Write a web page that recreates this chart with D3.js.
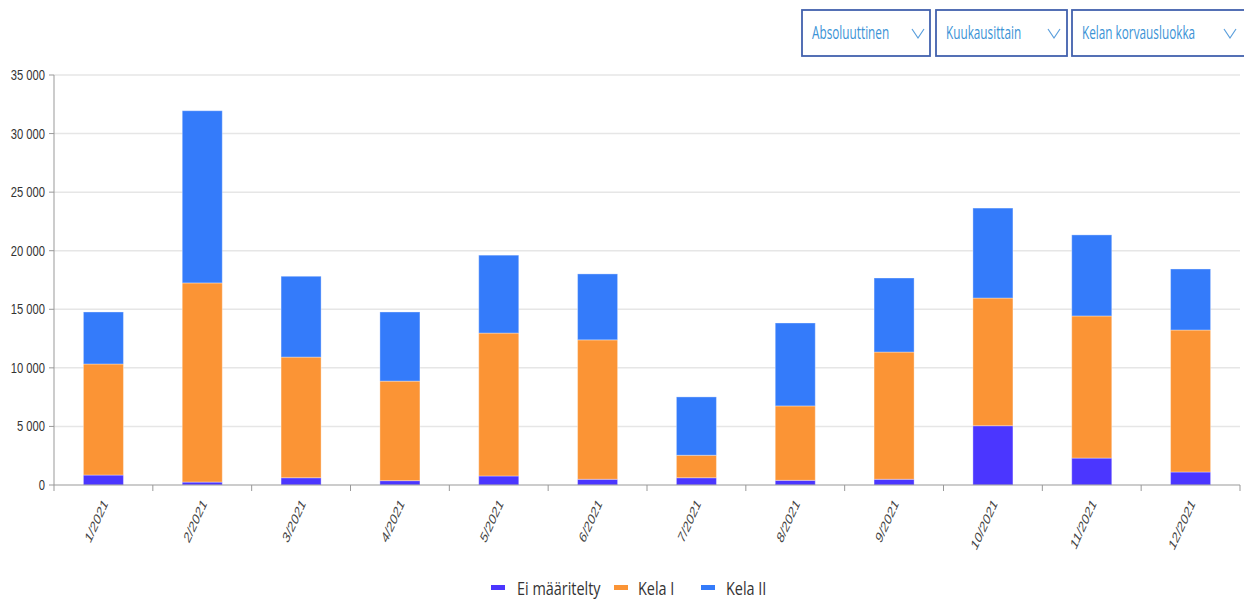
<!DOCTYPE html>
<html>
<head>
<meta charset="utf-8">
<script src="https://cdn.jsdelivr.net/npm/d3@7"></script>
<style>
  html, body { margin: 0; padding: 0; background: #fff; }
  svg { display: block; }
</style>
</head>
<body>
<svg id="chart" width="1244" height="602"></svg>
<script>
// Data
const months = ["1/2021", "2/2021", "3/2021", "4/2021", "5/2021", "6/2021",
                "7/2021", "8/2021", "9/2021", "10/2021", "11/2021", "12/2021"];
const eiMaaritelty = [850, 250, 620, 370, 770, 490, 620, 400, 490, 5060, 2300, 1110];
const kelaI = [9480, 17000, 10300, 8500, 12200, 11900, 1920, 6350, 10860, 10900, 12130, 12120];
const kelaII = [4440, 14700, 6900, 5900, 6650, 5630, 4980, 7080, 6320, 7680, 6920, 5210];
const seriesNames = ["Ei määritelty", "Kela I", "Kela II"];
const seriesColors = ["#4b36ff", "#fb9435", "#347bfa"];
const yTicks = [0, 5000, 10000, 15000, 20000, 25000, 30000, 35000];
const dropdownLabels = ["Absoluuttinen", "Kuukausittain", "Kelan korvausluokka"];

// Layout
const chart = {
    left: 54,
    right: 1240,
    top: 75,
    bottom: 485,
    barRatio: 0.405,
    axisColor: "#999",
    gridColor: "#e6e6e6",
    textColor: "#333"
};

const svg = d3.select("#chart");

const x = d3.scaleBand()
    .domain(months)
    .range([chart.left, chart.right])
    .padding(0);

const y = d3.scaleLinear()
    .domain([0, 35000])
    .range([chart.bottom, chart.top]);

// Finnish style thousands: "35 000"
const fmt = v => d3.format(",")(v).replace(/,/g, " ");

// Grid lines
svg.append("g")
    .selectAll("line")
    .data(yTicks.filter(d => d > 0))
    .join("line")
    .attr("x1", chart.left)
    .attr("x2", chart.right)
    .attr("y1", d => y(d))
    .attr("y2", d => y(d))
    .attr("stroke", chart.gridColor)
    .attr("stroke-width", 1.5);

// Stacked bars
const rows = months.map((m, i) => ({
    month: m,
    "Ei määritelty": eiMaaritelty[i],
    "Kela I": kelaI[i],
    "Kela II": kelaII[i]
}));
const stacked = d3.stack().keys(seriesNames)(rows);
const barWidth = x.bandwidth() * chart.barRatio;

svg.append("g")
    .selectAll("g")
    .data(stacked)
    .join("g")
    .attr("fill", (d, i) => seriesColors[i])
    .selectAll("rect")
    .data(d => d)
    .join("rect")
    .attr("x", d => x(d.data.month) + (x.bandwidth() - barWidth) / 2)
    .attr("width", barWidth)
    .attr("y", d => y(d[1]))
    .attr("height", d => y(d[0]) - y(d[1]))
    .attr("stroke", "rgba(255,255,255,0.35)")
    .attr("stroke-width", 1);

// Y axis
const yAxis = svg.append("g");
yAxis.append("line")
    .attr("x1", chart.left).attr("x2", chart.left)
    .attr("y1", chart.top).attr("y2", chart.bottom)
    .attr("stroke", chart.axisColor);
yAxis.selectAll(".tick")
    .data(yTicks)
    .join("line")
    .attr("x1", chart.left - 5).attr("x2", chart.left)
    .attr("y1", d => y(d)).attr("y2", d => y(d))
    .attr("stroke", chart.axisColor);
yAxis.selectAll("text")
    .data(yTicks)
    .join("text")
    .attr("transform", d => `translate(${chart.left - 9}, ${y(d) + 5}) scale(0.8, 1)`)
    .attr("text-anchor", "end")
    .attr("font-family", "Liberation Sans, Arial, sans-serif")
    .attr("font-size", 14)
    .attr("fill", chart.textColor)
    .text(fmt);

// X axis
const xAxis = svg.append("g");
xAxis.append("line")
    .attr("x1", chart.left).attr("x2", chart.right)
    .attr("y1", chart.bottom).attr("y2", chart.bottom)
    .attr("stroke", chart.axisColor);
xAxis.selectAll(".tick")
    .data(months.map(m => x(m)).concat([chart.right]))
    .join("line")
    .attr("x1", d => d).attr("x2", d => d)
    .attr("y1", chart.bottom).attr("y2", chart.bottom + 6)
    .attr("stroke", chart.axisColor);
// Labels look squeezed sideways, so scale after rotating (gives the slanted look)
xAxis.selectAll("text")
    .data(months)
    .join("text")
    .attr("transform", d =>
        `translate(${x(d) + x.bandwidth() / 2 + 5}, ${chart.bottom + 19}) scale(0.65, 1) rotate(-55)`)
    .attr("text-anchor", "end")
    .attr("font-family", "Liberation Sans, Arial, sans-serif")
    .attr("font-size", 16)
    .attr("fill", "#444")
    .text(d => d);

// Legend
const legendItems = [
    { x: 491, textX: 517 },
    { x: 614, textX: 638 },
    { x: 701, textX: 726 }
];
const legend = svg.append("g");
seriesNames.forEach((name, i) => {
    legend.append("rect")
        .attr("x", legendItems[i].x)
        .attr("y", 585)
        .attr("width", 14)
        .attr("height", 5)
        .attr("fill", seriesColors[i]);
    legend.append("text")
        .attr("transform", `translate(${legendItems[i].textX}, 595) scale(0.76, 1)`)
        .attr("font-family", "Open Sans, sans-serif")
        .attr("font-size", 19)
        .attr("fill", chart.textColor)
        .text(name);
});

// Dropdown boxes at the top right
const boxes = [
    { x: 802, w: 128, chevron: 918 },
    { x: 936, w: 131, chevron: 1054 },
    { x: 1072, w: 180, chevron: 1230 }
];
const dropdowns = svg.append("g");
dropdownLabels.forEach((label, i) => {
    const b = boxes[i];
    dropdowns.append("rect")
        .attr("x", b.x)
        .attr("y", 10)
        .attr("width", b.w)
        .attr("height", 46)
        .attr("fill", "#fff")
        .attr("stroke", "#4261ad")
        .attr("stroke-width", 1.8);
    dropdowns.append("text")
        .attr("transform", `translate(${b.x + 10}, 39) scale(0.62, 1)`)
        .attr("font-family", "Open Sans, sans-serif")
        .attr("font-size", 19)
        .attr("fill", "#3b93d6")
        .text(label);
    dropdowns.append("path")
        .attr("d", `M${b.chevron - 6},${29} L${b.chevron},${38} L${b.chevron + 6},${29}`)
        .attr("fill", "none")
        .attr("stroke", "#5b9fdc")
        .attr("stroke-width", 1.2);
});
</script>
</body>
</html>
